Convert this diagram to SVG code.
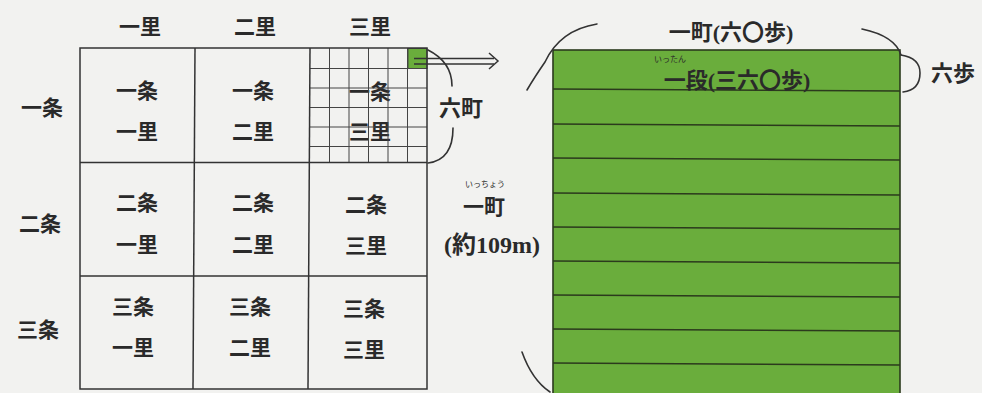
<svg xmlns="http://www.w3.org/2000/svg" width="982" height="393" viewBox="0 0 982 393">
<defs>
<style>
.t{font-family:"Liberation Serif","Noto Sans CJK JP",serif;font-weight:700;fill:#2a2a2a;text-anchor:middle;dominant-baseline:central}
.c{font-size:21px}
.r{font-size:8px;font-weight:400}
.grid{stroke:#333;stroke-width:1.5;fill:none}
.fine{stroke:#444;stroke-width:1;fill:none}
.br{stroke:#333;stroke-width:1.6;fill:none;stroke-linecap:round}
.strip{stroke:#2b3a1d;stroke-width:1.6}
</style>
</defs>
<rect width="982" height="393" fill="#f2f2f0"/>

<g id="top-labels">
<text class="t c" x="140" y="27">一里</text>
<text class="t c" x="255" y="27">二里</text>
<text class="t c" x="370" y="27">三里</text>
</g>
<g id="row-labels">
<text class="t c" x="42" y="108">一条</text>
<text class="t c" x="40" y="224">二条</text>
<text class="t c" x="38" y="330">三条</text>
</g>

<g id="cell-1-1"><text class="t c" x="137" y="91">一条</text><text class="t c" x="137" y="132">一里</text></g>
<g id="cell-1-2"><text class="t c" x="253" y="91">一条</text><text class="t c" x="253" y="132">二里</text></g>
<g id="cell-1-3">
<text class="t c" x="370" y="92">一条</text><text class="t c" x="370" y="132">三里</text>
<g class="fine">
<line x1="329.5" y1="48" x2="329.5" y2="162"/><line x1="349" y1="48" x2="349" y2="162"/><line x1="368.5" y1="48" x2="368.5" y2="162"/><line x1="388" y1="48" x2="388" y2="162"/><line x1="407.5" y1="48" x2="407.5" y2="162"/>
<line x1="310" y1="68.5" x2="427" y2="68.5"/><line x1="310" y1="88" x2="427" y2="88"/><line x1="310" y1="107.5" x2="427" y2="107.5"/><line x1="310" y1="127" x2="427" y2="127"/><line x1="310" y1="146.5" x2="427" y2="146.5"/>
</g>
<rect x="408" y="48.5" width="19" height="20" fill="#6aad3c" stroke="#444" stroke-width="1"/>
</g>
<g id="cell-2-1"><text class="t c" x="137" y="203">二条</text><text class="t c" x="137" y="245">一里</text></g>
<g id="cell-2-2"><text class="t c" x="253" y="203">二条</text><text class="t c" x="253" y="245">二里</text></g>
<g id="cell-2-3"><text class="t c" x="366" y="205">二条</text><text class="t c" x="366" y="246">三里</text></g>
<g id="cell-3-1"><text class="t c" x="133" y="307">三条</text><text class="t c" x="133" y="348">一里</text></g>
<g id="cell-3-2"><text class="t c" x="250" y="307">三条</text><text class="t c" x="250" y="348">二里</text></g>
<g id="cell-3-3"><text class="t c" x="364" y="309">三条</text><text class="t c" x="364" y="350">三里</text></g>

<g id="big-grid" class="grid">
<rect x="80" y="48" width="347" height="341"/>
<line x1="195" y1="48" x2="193" y2="389"/>
<line x1="310" y1="48" x2="308" y2="389"/>
<line x1="80" y1="162.5" x2="427" y2="162.5"/>
<line x1="80" y1="276" x2="427" y2="276"/>
</g>

<g id="field">
<rect x="553" y="50" width="347" height="350" fill="#6aad3c" stroke="#2b3a1d" stroke-width="1.6"/>
<g class="strip">
<line x1="553" y1="89" x2="900" y2="91"/><line x1="553" y1="124" x2="900" y2="126"/><line x1="553" y1="158" x2="900" y2="160"/>
<line x1="553" y1="193" x2="900" y2="195"/><line x1="553" y1="227" x2="900" y2="229"/><line x1="553" y1="261" x2="900" y2="263"/>
<line x1="553" y1="295" x2="900" y2="297"/><line x1="553" y1="329" x2="900" y2="331"/><line x1="553" y1="363" x2="900" y2="365"/>
</g>
<text class="t r" x="670" y="59">いったん</text>
<text class="t" x="737" y="80" font-size="22">一段(三六〇歩)</text>
</g>

<g id="labels-right">
<text class="t" x="461" y="108" font-size="22">六町</text>
<text class="t r" x="485" y="184">いっちょう</text>
<text class="t" x="484" y="207" font-size="21">一町</text>
<text class="t" x="492" y="245" font-size="24">(約109m)</text>
<text class="t" x="731" y="32" font-size="22">一町(六〇歩)</text>
<text class="t" x="953" y="73" font-size="22">六歩</text>
</g>

<g id="connectors">
<path class="br" d="M428,50 Q452,62 452,86"/>
<path class="br" d="M453,128 Q453,160 428,163"/>
<g stroke="#333" stroke-width="1.5" fill="none">
<line x1="414" y1="58.5" x2="494" y2="58.5"/>
<line x1="414" y1="64" x2="494" y2="64"/>
<path d="M489,53 L498,61 L489,69"/>
</g>
<path class="br" d="M597,24 Q560,30 545,62 Q534,78 527,90"/>
<path class="br" d="M522,352 Q532,380 550,392"/>
<path class="br" d="M862,29 Q895,36 901,55"/>
<path class="br" d="M901,55 Q920,58 920,73 Q920,90 903,92"/>
</g>
</svg>
